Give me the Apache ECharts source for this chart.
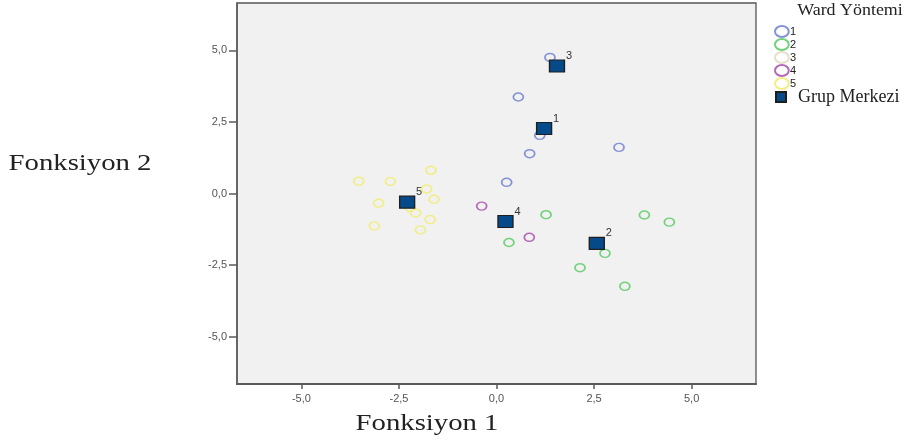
<!DOCTYPE html>
<html>
<head>
<meta charset="utf-8">
<script src="https://cdn.jsdelivr.net/npm/echarts@6/dist/echarts.min.js"></script>
<style>html,body{margin:0;padding:0;background:#fff;}#c{width:911px;height:441px;}</style>
</head>
<body>
<div id="c"></div>
<script>
// ---- data ----
var groupNames = ['1', '2', '3', '4', '5'];
var group1 = [[1.37, 4.75], [0.56, 3.37], [1.11, 2.03], [0.85, 1.39], [3.14, 1.61], [0.26, 0.39]];
var group2 = [[1.27, -0.74], [3.79, -0.75], [4.43, -1.00], [0.32, -1.71], [2.78, -2.09], [2.14, -2.59], [3.29, -3.24]];
var group3 = [[1.55, 4.45]];
var group4 = [[-0.38, -0.44], [0.84, -1.53]];
var group5 = [[-1.68, 0.81], [-3.53, 0.43], [-2.72, 0.42], [-1.79, 0.16], [-1.60, -0.20], [-3.02, -0.34],
              [-2.22, -0.49], [-2.07, -0.68], [-1.70, -0.91], [-3.13, -1.13], [-1.95, -1.27]];
var centerLabels = ['1', '2', '3', '4', '5'];
var centers = [[1.22, 2.27], [2.57, -1.74], [1.55, 4.45], [0.23, -0.98], [-2.29, -0.30]];
var tickValues = [-5, -2.5, 0, 2.5, 5];
var centerName = 'Grup Merkezi';
var legendTitle = 'Ward Yöntemi';
var xTitle = 'Fonksiyon 1';
var yTitle = 'Fonksiyon 2';

var groups = [group1, group2, group3, group4, group5];
var colors = ['#8593d6', '#74d27c', '#e4e0c9', '#b46ab8', '#f1ee86'];
var ellipse = 'path://M0,4A5,4 0 1,0 10,4A5,4 0 1,0 0,4Z';

function fmt(v) { return v.toFixed(1).replace('.', ','); }

var series = groups.map(function (g, i) {
  return {
    name: groupNames[i],
    type: 'scatter',
    data: g,
    symbol: ellipse,
    symbolKeepAspect: false,
    symbolSize: [10, 8],
    itemStyle: { color: 'rgba(0,0,0,0)', borderColor: colors[i], borderWidth: 1.6, opacity: 1 },
    emphasis: { disabled: true },
    z: 2
  };
});
series.push({
  name: centerName,
  type: 'scatter',
  data: centers.map(function (c, i) { return { value: c, name: centerLabels[i] }; }),
  symbol: 'rect',
  symbolSize: [15, 12],
  itemStyle: { color: '#064a8a', borderColor: '#1e1e1e', borderWidth: 1.2, opacity: 1 },
  label: {
    show: true, formatter: '{b}', position: 'inside', offset: [12, -10],
    color: '#333', fontSize: 11, fontFamily: 'Liberation Sans, Arial, sans-serif'
  },
  emphasis: { disabled: true },
  z: 5
});

var chart = echarts.init(document.getElementById('c'), null, { renderer: 'canvas' });
chart.setOption({
  backgroundColor: '#ffffff',
  animation: false,
  grid: {
    left: 237, right: 155, top: 3, bottom: 57,
    show: true, backgroundColor: '#f1f1f1', borderColor: '#555', borderWidth: 1.3
  },
  xAxis: {
    type: 'value', min: -6.65, max: 6.65,
    splitLine: { show: false },
    axisLine: { show: true, onZero: false, lineStyle: { color: '#5a5a5a', width: 2 } },
    axisTick: { show: true, customValues: tickValues, length: 5, lineStyle: { color: '#5a5a5a', width: 1.5 } },
    axisLabel: {
      customValues: tickValues, formatter: fmt, margin: 9,
      color: '#555', fontSize: 11, fontFamily: 'Liberation Sans, Arial, sans-serif'
    }
  },
  yAxis: {
    type: 'value', min: -6.65, max: 6.65,
    splitLine: { show: false },
    axisLine: { show: true, onZero: false, lineStyle: { color: '#5a5a5a', width: 1.5 } },
    axisTick: { show: true, customValues: tickValues, length: 8, lineStyle: { color: '#5a5a5a', width: 1.5 } },
    axisLabel: {
      customValues: tickValues, formatter: fmt, margin: 10,
      color: '#555', fontSize: 11, fontFamily: 'Liberation Sans, Arial, sans-serif'
    }
  },
  legend: [{
    data: groupNames,
    orient: 'vertical',
    left: 774, top: 25,
    itemWidth: 14, itemHeight: 11, itemGap: 0,
    padding: 0,
    selectedMode: false,
    textStyle: { color: '#222', fontSize: 11, fontFamily: 'Liberation Sans, Arial, sans-serif', padding: [0, 0, 0, -4] }
  }, {
    data: [{ name: centerName, icon: 'rect' }],
    orient: 'vertical',
    left: 775, top: 88,
    itemWidth: 10, itemHeight: 10,
    padding: 0,
    selectedMode: false,
    textStyle: { color: '#222', fontSize: 18, fontFamily: 'Liberation Serif, Times New Roman, serif', padding: [0, 0, 0, 7] }
  }],
  graphic: [
    {
      type: 'text', x: 850, y: 11, scaleX: 1.12,
      style: { text: legendTitle, fill: '#222', font: '16px "Liberation Serif", serif', align: 'center', verticalAlign: 'middle' }
    },
    {
      type: 'text', x: 80, y: 164, scaleX: 1.25,
      style: { text: yTitle, fill: '#222', font: '23px "Liberation Serif", serif', align: 'center', verticalAlign: 'middle' }
    },
    {
      type: 'text', x: 427, y: 424, scaleX: 1.25,
      style: { text: xTitle, fill: '#222', font: '23px "Liberation Serif", serif', align: 'center', verticalAlign: 'middle' }
    }
  ],
  series: series
});
</script>
</body>
</html>
